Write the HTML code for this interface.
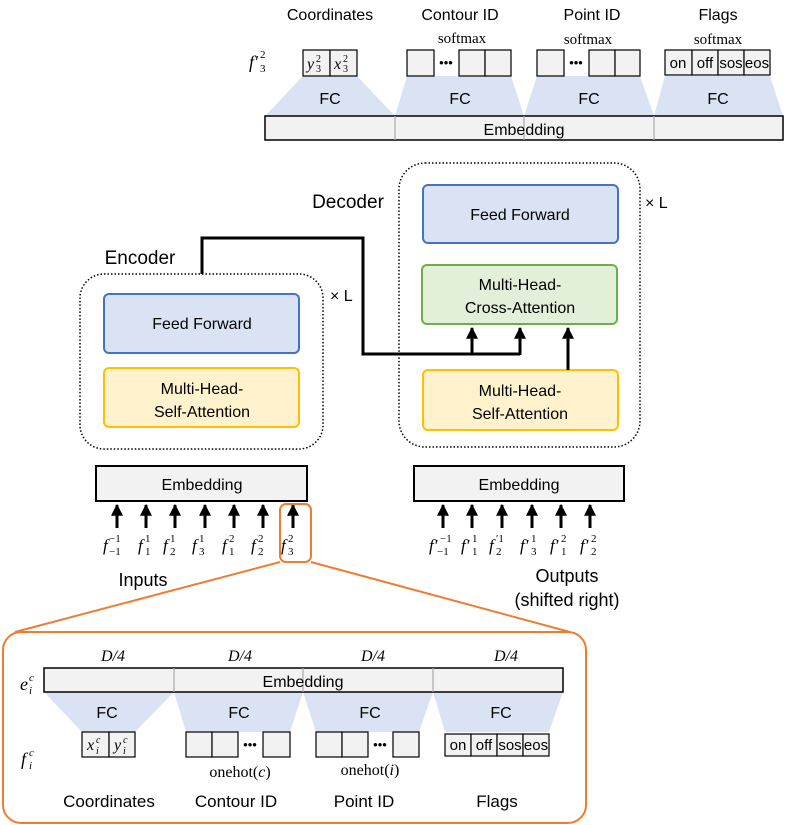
<!DOCTYPE html>
<html><head><meta charset="utf-8"><style>
html,body{margin:0;padding:0;background:#fff}
svg{display:block}
.s{font-family:"Liberation Sans",sans-serif;fill:#000}
.m{font-family:"Liberation Serif",serif;font-style:italic;fill:#000}
.r{font-family:"Liberation Serif",serif;fill:#000}
.n{font-family:"Liberation Serif",serif;fill:#000}
</style></head><body>
<svg width="788" height="825" viewBox="0 0 788 825" xmlns="http://www.w3.org/2000/svg">
<defs><marker id="ah" viewBox="0 0 10 10" refX="9" refY="5" markerWidth="4" markerHeight="4" orient="auto"><path d="M0,0 L10,5 L0,10 z" fill="#000"/></marker></defs>

<!-- TOP output head -->
<g fill="#dae3f3">
<polygon points="303,76 357,76 395,116 265,116"/>
<polygon points="407,76 511,76 524,116 395,116"/>
<polygon points="537,76 640,76 654,116 524,116"/>
<polygon points="665,76 770,76 783,116 654,116"/>
</g>
<rect x="265" y="116" width="518" height="24" fill="#f2f2f2" stroke="#000" stroke-width="1.5"/>
<g stroke="#aaa" stroke-width="1.2"><line x1="395" y1="116" x2="395" y2="140"/><line x1="524" y1="116" x2="524" y2="140"/><line x1="654" y1="116" x2="654" y2="140"/></g>
<text x="524" y="135" class="s" font-size="16" text-anchor="middle">Embedding</text>
<g class="s" font-size="16" text-anchor="middle"><text x="330" y="104">FC</text><text x="460" y="104">FC</text><text x="589" y="104">FC</text><text x="718" y="104">FC</text></g>
<g class="s" font-size="16" text-anchor="middle"><text x="330" y="20">Coordinates</text><text x="460" y="20">Contour ID</text><text x="592" y="20">Point ID</text><text x="718" y="20">Flags</text></g>
<g class="r" font-size="15" text-anchor="middle"><text x="462" y="43">softmax</text><text x="588" y="44">softmax</text><text x="718" y="44">softmax</text></g>
<text x="249" y="68" class="m" font-size="18">f′</text><text x="260" y="58" class="n" font-size="11">2</text><text x="260" y="72" class="n" font-size="11">3</text>
<g fill="#f2f2f2" stroke="#000" stroke-width="1.2">
<rect x="303" y="50" width="27" height="26"/><rect x="330" y="50" width="27" height="26"/>
<rect x="407" y="50" width="27" height="26"/><rect x="459" y="50" width="26" height="26"/><rect x="485" y="50" width="26" height="26"/>
<rect x="537" y="50" width="27" height="26"/><rect x="589" y="50" width="26" height="26"/><rect x="615" y="50" width="25" height="26"/>
<rect x="665" y="50" width="27" height="25"/><rect x="692" y="50" width="26" height="25"/><rect x="718" y="50" width="26" height="25"/><rect x="744" y="50" width="26" height="25"/>
</g>
<text x="307" y="69" class="m" font-size="16">y</text><text x="316" y="62" class="n" font-size="10">2</text><text x="316" y="72" class="n" font-size="10">3</text>
<text x="334" y="69" class="m" font-size="16">x</text><text x="343" y="62" class="n" font-size="10">2</text><text x="343" y="72" class="n" font-size="10">3</text>
<g class="s" font-size="13" text-anchor="middle"><text x="446" y="67">•••</text><text x="576" y="67">•••</text></g>
<g class="s" font-size="15" text-anchor="middle"><text x="678" y="68">on</text><text x="705" y="68">off</text><text x="731" y="68">sos</text><text x="757" y="68">eos</text></g>

<!-- Decoder -->
<rect x="399" y="163" width="241" height="284" rx="26" fill="none" stroke="#000" stroke-width="1.5" stroke-dasharray="1.5,2"/>
<rect x="423" y="185" width="195" height="58" rx="5" fill="#dae3f3" stroke="#4472c4" stroke-width="2"/>
<rect x="422" y="265" width="195" height="59" rx="5" fill="#e2efd9" stroke="#70ad47" stroke-width="2"/>
<rect x="423" y="370" width="195" height="60" rx="5" fill="#fff2cc" stroke="#ffc000" stroke-width="2"/>
<g class="s" font-size="16" text-anchor="middle">
<text x="520" y="220">Feed Forward</text>
<text x="520" y="290">Multi-Head-</text><text x="520" y="313">Cross-Attention</text>
<text x="520" y="396">Multi-Head-</text><text x="520" y="419">Self-Attention</text>
</g>
<text x="348" y="208" class="s" font-size="19" text-anchor="middle">Decoder</text>
<text x="645" y="208" class="s" font-size="16">× L</text>

<!-- Encoder -->
<rect x="80" y="274" width="243" height="175" rx="24" fill="none" stroke="#000" stroke-width="1.5" stroke-dasharray="1.5,2"/>
<rect x="104" y="294" width="195" height="59" rx="5" fill="#dae3f3" stroke="#4472c4" stroke-width="2"/>
<rect x="104" y="368" width="195" height="59" rx="5" fill="#fff2cc" stroke="#ffc000" stroke-width="2"/>
<g class="s" font-size="16" text-anchor="middle">
<text x="202" y="329">Feed Forward</text>
<text x="202" y="394">Multi-Head-</text><text x="202" y="417">Self-Attention</text>
</g>
<text x="140" y="264" class="s" font-size="19" text-anchor="middle">Encoder</text>
<text x="330" y="301" class="s" font-size="16">× L</text>

<!-- connections -->
<polyline points="202,274 202,238 363,238 363,354 520,354" fill="none" stroke="#000" stroke-width="3"/>
<g stroke="#000" stroke-width="3" marker-end="url(#ah)">
<line x1="472" y1="355" x2="472" y2="328"/><line x1="520" y1="355" x2="520" y2="328"/><line x1="568" y1="370" x2="568" y2="328"/>
</g>

<!-- embeddings -->
<rect x="96" y="466" width="211" height="35" fill="#f2f2f2" stroke="#000" stroke-width="2"/>
<rect x="414" y="466" width="210" height="35" fill="#f2f2f2" stroke="#000" stroke-width="2"/>
<g class="s" font-size="16" text-anchor="middle"><text x="202" y="490">Embedding</text><text x="519" y="490">Embedding</text></g>

<g stroke="#000" stroke-width="3" marker-end="url(#ah)">
<line x1="117" y1="528" x2="117" y2="505"/><line x1="146" y1="528" x2="146" y2="505"/><line x1="175" y1="528" x2="175" y2="505"/><line x1="205" y1="528" x2="205" y2="505"/><line x1="234" y1="528" x2="234" y2="505"/><line x1="263" y1="528" x2="263" y2="505"/><line x1="293" y1="528" x2="293" y2="505"/>
<line x1="443" y1="528" x2="443" y2="505"/><line x1="472" y1="528" x2="472" y2="505"/><line x1="502" y1="528" x2="502" y2="505"/><line x1="532" y1="528" x2="532" y2="505"/><line x1="561" y1="528" x2="561" y2="505"/><line x1="590" y1="528" x2="590" y2="505"/>
</g>
<g class="m" font-size="17">
<text x="103" y="551">f</text><text x="163" y="551">f</text>
<text x="138" y="551">f</text><text x="192" y="551">f</text><text x="222" y="551">f</text><text x="251" y="551">f</text><text x="281" y="551">f</text>
<text x="429" y="551">f′</text><text x="461" y="551">f′</text><text x="489" y="551">f</text><text x="520" y="551">f′</text><text x="550" y="551">f′</text><text x="580" y="551">f′</text>
</g>
<g class="n" font-size="11">
<text x="109" y="542">−1</text><text x="109" y="555">−1</text>
<text x="145" y="542">1</text><text x="145" y="555">1</text>
<text x="170" y="542">1</text><text x="170" y="555">2</text>
<text x="199" y="542">1</text><text x="199" y="555">3</text>
<text x="229" y="542">2</text><text x="229" y="555">1</text>
<text x="258" y="542">2</text><text x="258" y="555">2</text>
<text x="288" y="542">2</text><text x="288" y="555">3</text>
<text x="440" y="542">−1</text><text x="437" y="555">−1</text>
<text x="472" y="542">1</text><text x="472" y="555">1</text>
<text x="496" y="542">′1</text><text x="496" y="555">2</text>
<text x="531" y="542">1</text><text x="531" y="555">3</text>
<text x="561" y="542">2</text><text x="561" y="555">1</text>
<text x="591" y="542">2</text><text x="591" y="555">2</text>
</g>
<rect x="280" y="504" width="31" height="58" rx="6" fill="none" stroke="#ed7d31" stroke-width="2"/>
<line x1="280" y1="562" x2="15" y2="632" stroke="#ed7d31" stroke-width="2"/>
<line x1="311" y1="562" x2="570" y2="632" stroke="#ed7d31" stroke-width="2"/>
<text x="143" y="586" class="s" font-size="18" text-anchor="middle">Inputs</text>
<text x="567" y="582" class="s" font-size="18" text-anchor="middle">Outputs</text>
<text x="567" y="606" class="s" font-size="18" text-anchor="middle">(shifted right)</text>

<!-- bottom detail -->
<rect x="3" y="632" width="583" height="191" rx="18" fill="#fff" stroke="#ed7d31" stroke-width="2"/>
<g fill="#dae3f3">
<polygon points="44,692 174,692 135,732 82,732"/>
<polygon points="174,692 303,692 290,732 186,732"/>
<polygon points="303,692 433,692 419,732 316,732"/>
<polygon points="433,692 563,692 549,732 445,732"/>
</g>
<rect x="44" y="668" width="519" height="24" fill="#f2f2f2" stroke="#000" stroke-width="1.5"/>
<g stroke="#aaa" stroke-width="1.2"><line x1="174" y1="668" x2="174" y2="692"/><line x1="303" y1="668" x2="303" y2="692"/><line x1="433" y1="668" x2="433" y2="692"/></g>
<text x="303" y="687" class="s" font-size="16" text-anchor="middle">Embedding</text>
<g class="m" font-size="16" text-anchor="middle"><text x="113" y="661">D/4</text><text x="240" y="661">D/4</text><text x="373" y="661">D/4</text><text x="506" y="661">D/4</text></g>
<g class="s" font-size="16" text-anchor="middle"><text x="107" y="718">FC</text><text x="239" y="718">FC</text><text x="370" y="718">FC</text><text x="501" y="718">FC</text></g>
<g fill="#f2f2f2" stroke="#000" stroke-width="1.2">
<rect x="82" y="732" width="27" height="25"/><rect x="109" y="732" width="26" height="25"/>
<rect x="186" y="732" width="26" height="25"/><rect x="212" y="732" width="26" height="25"/><rect x="263" y="732" width="27" height="25"/>
<rect x="316" y="732" width="26" height="25"/><rect x="342" y="732" width="26" height="25"/><rect x="393" y="732" width="26" height="25"/>
<rect x="445" y="734" width="26" height="22"/><rect x="471" y="734" width="26" height="22"/><rect x="497" y="734" width="26" height="22"/><rect x="523" y="734" width="26" height="22"/>
</g>
<text x="87" y="750" class="m" font-size="16">x</text><text x="96" y="743" class="m" font-size="10">c</text><text x="96" y="754" class="m" font-size="10">i</text>
<text x="114" y="750" class="m" font-size="16">y</text><text x="123" y="743" class="m" font-size="10">c</text><text x="123" y="754" class="m" font-size="10">i</text>
<g class="s" font-size="13" text-anchor="middle"><text x="250" y="749">•••</text><text x="380" y="749">•••</text></g>
<g class="s" font-size="15" text-anchor="middle"><text x="458" y="750">on</text><text x="484" y="750">off</text><text x="510" y="750">sos</text><text x="536" y="750">eos</text></g>
<text x="240" y="777" class="r" font-size="16" text-anchor="middle">onehot(<tspan font-style="italic">c</tspan>)</text>
<text x="370" y="775" class="r" font-size="16" text-anchor="middle">onehot(<tspan font-style="italic">i</tspan>)</text>
<g class="s" font-size="17" text-anchor="middle"><text x="109" y="807">Coordinates</text><text x="236" y="807">Contour ID</text><text x="364" y="807">Point ID</text><text x="497" y="807">Flags</text></g>
<text x="20" y="690" class="m" font-size="18">e</text><text x="29" y="681" class="m" font-size="11">c</text><text x="29" y="694" class="m" font-size="11">i</text>
<text x="21" y="765" class="m" font-size="18">f</text><text x="29" y="756" class="m" font-size="11">c</text><text x="29" y="769" class="m" font-size="11">i</text>
</svg>
</body></html>
